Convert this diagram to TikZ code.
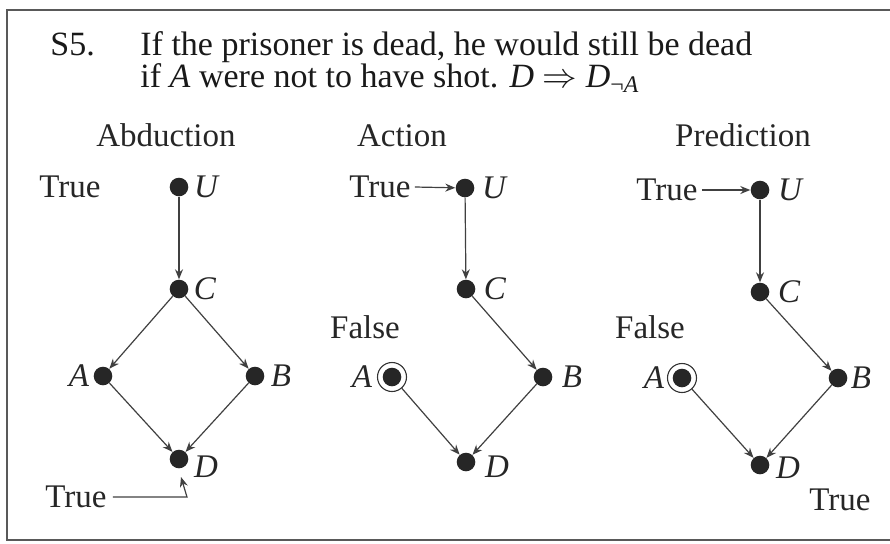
\documentclass[tikz,border=0pt]{standalone}
\usepackage{fontspec}
\setmainfont{Liberation Serif}
\usetikzlibrary{arrows.meta}
\begin{document}
\begin{tikzpicture}[x=0.5pt,y=-0.5pt,
  dot/.style={circle,fill=black!85,minimum size=9.3pt,inner sep=0pt},
  ring/.style={circle,draw=black!80,line width=0.55pt,minimum size=14.5pt,inner sep=0pt},
  title/.style={font=\fontsize{17pt}{16pt}\selectfont,inner sep=0pt,text=black!90},
  lbl/.style={font=\fontsize{16.5pt}{18pt}\selectfont,inner sep=0pt,text=black!85},
  vl/.style={font=\fontsize{16.5pt}{18pt}\selectfont\itshape,inner sep=0pt,text=black!85},
  edge/.style={draw=black!75,line width=0.6pt,-{Stealth[length=5pt,width=4pt]}},
  frame/.style={draw=black!65,line width=0.8pt}]
\useasboundingbox (0,0) rectangle (890,543);
\draw[frame] (890,10) -- (7,10) -- (7,540) -- (890,540);

% title
\node[title,anchor=base west] (s5) at (50,55) {S5.};
\node[title,anchor=base west,align=left] (t1) at (140,87) {If the prisoner is dead, he would still be dead\\if \textit{A} were not to have shot. \textit{D} $\Rightarrow$ \textit{D}\textsubscript{¬\textit{A}}};

% panel headings
\node[lbl,anchor=base] (h1) at (166,146) {Abduction};
\node[lbl,anchor=base] (h2) at (402,146) {Action};
\node[lbl,anchor=base] (h3) at (743,146) {Prediction};

% ---------- Abduction ----------
\node[dot] (U1) at (179,187) {};
\node[dot] (C1) at (179,289) {};
\node[dot] (A1) at (103,376) {};
\node[dot] (B1) at (255,376) {};
\node[dot] (D1) at (179,459) {};
\node[vl] (lU1) at (206,187) {U};
\node[vl] (lC1) at (205,289) {C};
\node[vl] (lA1) at (79,376) {A};
\node[vl] (lB1) at (281,376) {B};
\node[vl] (lD1) at (206,467) {D};
\node[lbl] (T1) at (70,187) {True};
\node[lbl] (Tb1) at (76,497) {True};
\coordinate (d1in) at (181,477);
\draw[edge] (U1) -- (C1);
\draw[edge] (C1) -- (A1);
\draw[edge] (C1) -- (B1);
\draw[edge] (A1) -- (D1);
\draw[edge] (B1) -- (D1);
\draw[edge] ([xshift=3]Tb1.east) -- ([xshift=3]Tb1.east -| d1in) -- (d1in);

% ---------- Action ----------
\node[dot] (U2) at (465,188) {};
\node[dot] (C2) at (466,289) {};
\node[dot] (A2) at (392,377) {};
\node[ring] (R2) at (392,377) {};
\node[dot] (B2) at (543,377) {};
\node[dot] (D2) at (466,462) {};
\node[vl] (lU2) at (494,188) {U};
\node[vl] (lC2) at (495,289) {C};
\node[vl] (lA2) at (362,377) {A};
\node[vl] (lB2) at (572,377) {B};
\node[vl] (lD2) at (497,467) {D};
\node[lbl] (T2) at (380,187) {True};
\node[lbl] (F2) at (365,327) {False};
\draw[edge] ([xshift=2]T2.east) -- (U2);
\draw[edge] (U2) -- (C2);
\draw[edge] (C2) -- (B2);
\draw[edge] (R2) -- (D2);
\draw[edge] (B2) -- (D2);

% ---------- Prediction ----------
\node[dot] (U3) at (760,190) {};
\node[dot] (C3) at (760,292) {};
\node[dot] (A3) at (682,378) {};
\node[ring] (R3) at (682,378) {};
\node[dot] (B3) at (838,378) {};
\node[dot] (D3) at (760,465) {};
\node[vl] (lU3) at (790,190) {U};
\node[vl] (lC3) at (789,292) {C};
\node[vl] (lA3) at (654,378) {A};
\node[vl] (lB3) at (861,378) {B};
\node[vl] (lD3) at (788,468) {D};
\node[lbl] (T3) at (667,190) {True};
\node[lbl] (F3) at (650,327) {False};
\node[lbl] (Tb3) at (840,500) {True};
\draw[edge] ([xshift=2]T3.east) -- (U3);
\draw[edge] (U3) -- (C3);
\draw[edge] (C3) -- (B3);
\draw[edge] (R3) -- (D3);
\draw[edge] (B3) -- (D3);
\end{tikzpicture}
\end{document}
